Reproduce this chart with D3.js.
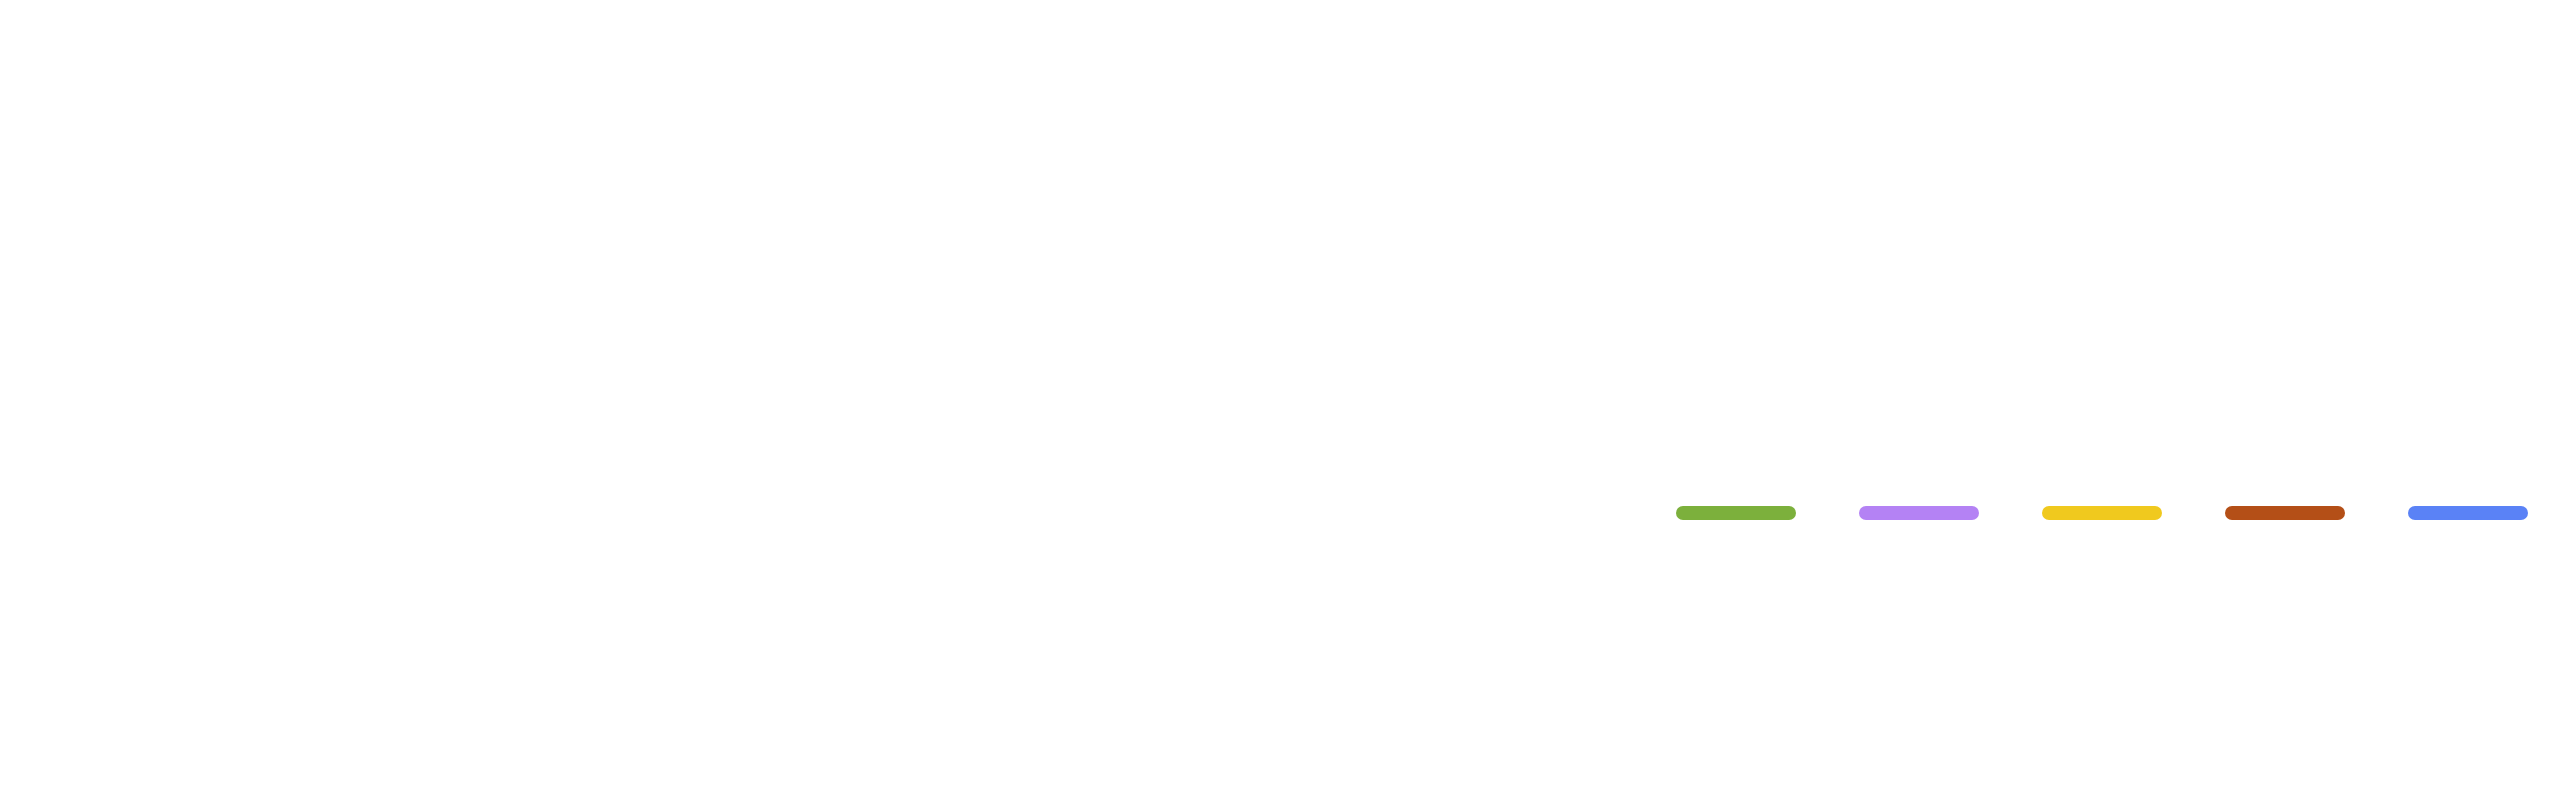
<!DOCTYPE html>
<html>
<head>
<meta charset="utf-8">
<script src="https://cdn.jsdelivr.net/npm/d3@7"></script>
<style>
  html, body { margin: 0; padding: 0; background: #ffffff; }
  svg { display: block; }
</style>
</head>
<body>
<div id="chart"></div>
<script>
// Series shown in the legend (no data marks are visible in the reference)
const seriesNames = ["Series 1", "Series 2", "Series 3", "Series 4", "Series 5"];
const seriesColors = ["#7cb03c", "#b482f4", "#f0c91e", "#b44f17", "#5a82f6"];

const width = 2560, height = 810;
const svg = d3.select("#chart").append("svg")
  .attr("width", width).attr("height", height)
  .style("background", "#ffffff");

const legendX = d3.scalePoint()
  .domain(seriesNames)
  .range([1683, 2415]);

const legendY = 513;
const symbolLen = 106;

const color = d3.scaleOrdinal().domain(seriesNames).range(seriesColors);

svg.append("g").attr("class", "legend")
  .selectAll("line")
  .data(seriesNames)
  .join("line")
  .attr("x1", d => legendX(d))
  .attr("x2", d => legendX(d) + symbolLen)
  .attr("y1", legendY)
  .attr("y2", legendY)
  .attr("stroke", d => color(d))
  .attr("stroke-width", 14)
  .attr("stroke-linecap", "round");
</script>
</body>
</html>
